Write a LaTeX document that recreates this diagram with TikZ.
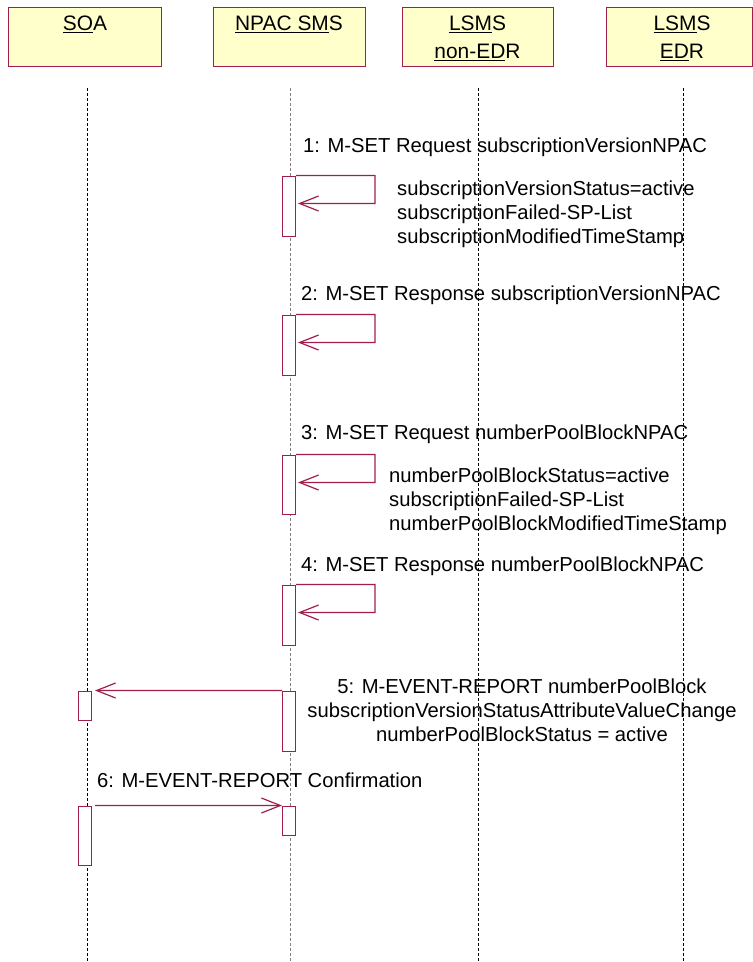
\documentclass[tikz,border=0pt]{standalone}
\usepackage{fontspec}
\setmainfont{Liberation Sans}
\usepackage{tikz}
\usetikzlibrary{arrows.meta}
\definecolor{umlred}{HTML}{A01E4E}
\definecolor{headfill}{HTML}{FFFFCC}

\begin{document}
\begin{tikzpicture}[
  x=1bp, y=-1bp,
  font=\fontsize{20.3}{24}\selectfont,
  >={Straight Barb[length=19bp, width=15bp]},
  head/.style={draw=umlred, fill=headfill, line width=1bp,
    minimum height=59bp, inner sep=0pt},
  headtext/.style={align=center, inner sep=0pt, anchor=north,
    font=\fontsize{21}{28}\selectfont},
  life/.style={dash pattern=on 3bp off 2bp, line width=0.8bp},
  act/.style={draw=umlred, fill=white, line width=1bp,
    minimum width=13bp, inner sep=0pt},
  msg/.style={->, umlred, line width=1.2bp},
  msglabel/.style={anchor=west, inner sep=0pt},
  note/.style={anchor=west, align=left, inner sep=0pt}
]
\useasboundingbox (0,0) rectangle (753,962);

% Object headers
\node[head, minimum width=152bp] (soa) at (85,36.5) {};
\node[head, minimum width=152bp] (npac) at (289,36.5) {};
\node[head, minimum width=151bp] (lsms) at (477.5,36.5) {};
\node[head, minimum width=146bp] (edr) at (679,36.5) {};
\node[headtext] (soaT) at (85,16) {\underline{SO}A};
\node[headtext] (npacT) at (289,16) {\underline{NPAC SM}S};
\node[headtext] (lsmsT) at (477.5,16) {\underline{LSM}S\\\underline{non-ED}R};
\node[headtext] (edrT) at (682,16) {\underline{LSM}S\\\underline{ED}R};

% Lifelines
\coordinate (soaL) at (87,88);   \coordinate (soaB) at (87,962);
\coordinate (npacL) at (290,88); \coordinate (npacB) at (290,962);
\coordinate (lsmsL) at (478,88); \coordinate (lsmsB) at (478,962);
\coordinate (edrL) at (683,88);  \coordinate (edrB) at (683,962);
\draw[life] (soaL) -- (soaB);
\draw[life, gray] (npacL) -- (npacB);
\draw[life] (lsmsL) -- (lsmsB);
\draw[life] (edrL) -- (edrB);

% 1: subscription version request
\node[msglabel] (l1) at (303,147) {1: M-SET Request subscriptionVersionNPAC};
\node[act, minimum height=60bp] (n1) at (289,206) {};
\draw[msg] (n1.north east) -- ++(79,0) -- ++(0,28)
  -- ([xshift=2bp, yshift=-28bp]n1.north east);
\node[note] (t1) at (397,214)
  {subscriptionVersionStatus=active\\subscriptionFailed-SP-List\\subscriptionModifiedTimeStamp};

% 2: subscription version response
\node[msglabel] (l2) at (301,295) {2: M-SET Response subscriptionVersionNPAC};
\node[act, minimum height=60bp] (n2) at (289,345) {};
\draw[msg] (n2.north east) -- ++(79,0) -- ++(0,28)
  -- ([xshift=2bp, yshift=-28bp]n2.north east);

% 3: number pool block request
\node[msglabel] (l3) at (301,434) {3: M-SET Request numberPoolBlockNPAC};
\node[act, minimum height=59bp] (n3) at (289,484.5) {};
\draw[msg] (n3.north east) -- ++(79,0) -- ++(0,28)
  -- ([xshift=2bp, yshift=-28bp]n3.north east);
\node[note] (t3) at (389,501)
  {numberPoolBlockStatus=active\\subscriptionFailed-SP-List\\numberPoolBlockModifiedTimeStamp};

% 4: number pool block response
\node[msglabel] (l4) at (301,566) {4: M-SET Response numberPoolBlockNPAC};
\node[act, minimum height=60bp] (n4) at (289,615) {};
\draw[msg] (n4.north east) -- ++(79,0) -- ++(0,28)
  -- ([xshift=2bp, yshift=-28bp]n4.north east);

% 5: event report to SOA
\node[act, minimum height=60bp] (n5) at (289,721) {};
\node[act, minimum height=29bp] (s5) at (85,705.5) {};
\draw[msg, shorten >=3bp] (n5.north west) -- (s5.north east);
\node[align=center, inner sep=0pt] (l5) at (522,710)
  {5: M-EVENT-REPORT numberPoolBlock\\subscriptionVersionStatusAttributeValueChange\\numberPoolBlockStatus = active};

% 6: confirmation back to NPAC
\node[msglabel] (l6) at (97,780) {6: M-EVENT-REPORT Confirmation};
\node[act, minimum height=59bp] (s6) at (85,835.5) {};
\node[act, minimum height=29bp] (n6) at (289,820.5) {};
\draw[msg, shorten <=3bp] (s6.north east) -- (n6.north west);

\end{tikzpicture}
\end{document}
